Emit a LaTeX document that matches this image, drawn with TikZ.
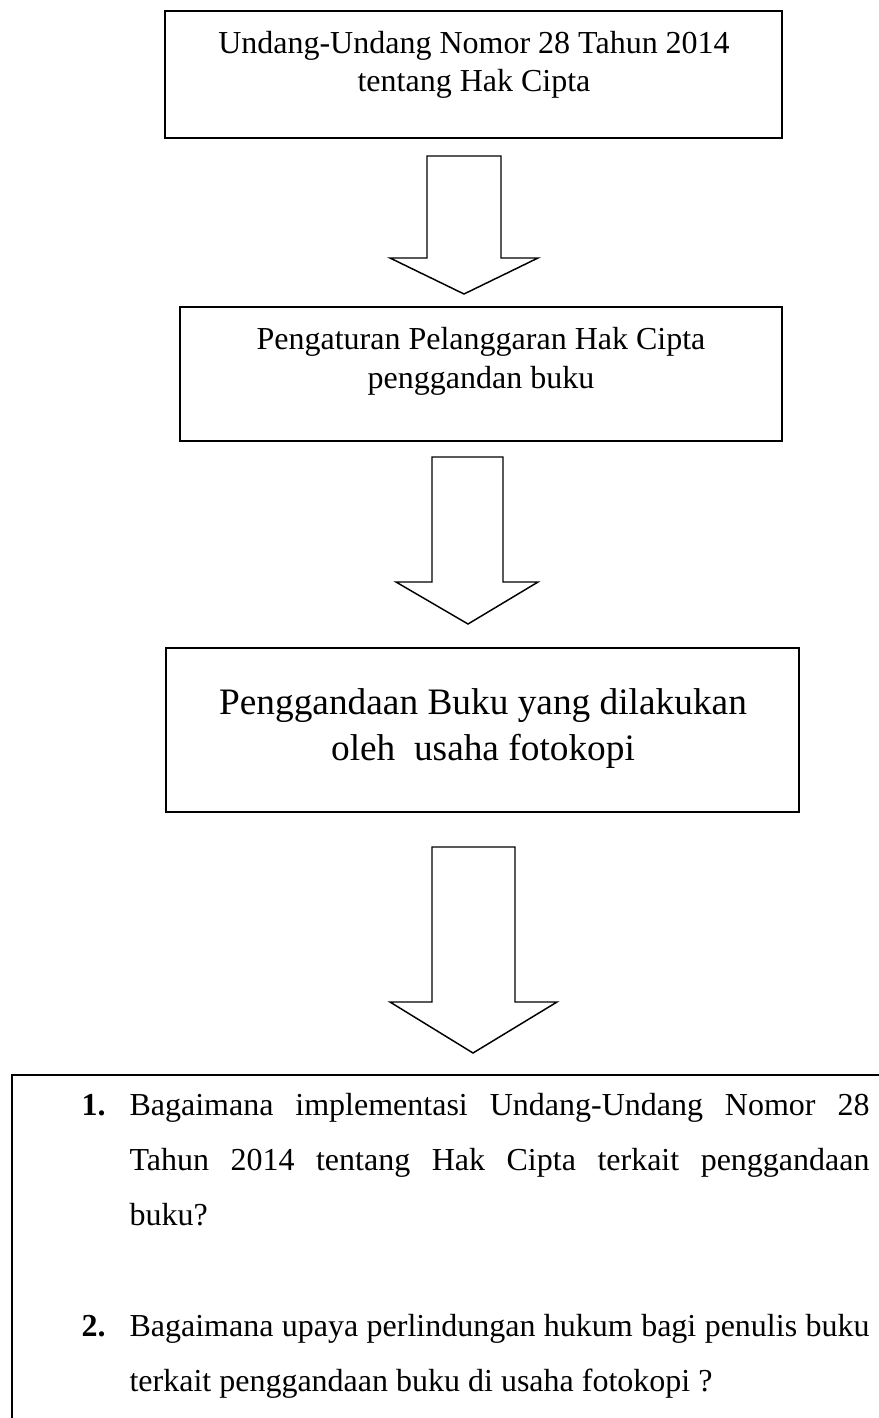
\documentclass[tikz,border=0pt]{standalone}
\usepackage{fontspec}
\setmainfont{Liberation Serif}
\usetikzlibrary{fit}
\begin{document}
\begin{tikzpicture}[x=0.375pt,y=-0.375pt,
  boxline/.style={draw=black, line width=0.75pt, inner sep=0pt},
  blockarrow/.style={draw=black, line width=0.55pt, line join=miter, fill=white},
  txt/.style={anchor=base, inner sep=0pt},
  qtxt/.style={anchor=base west, inner sep=0pt},
]
\useasboundingbox (0,0) rectangle (879,1418);
\fill[white] (0,0) rectangle (879,1418);
\clip (0,0) rectangle (879,1418);

% boxes
\node[boxline, fit={(165,11)(782,138)}] (b1) {};
\node[boxline, fit={(180,307)(782,441)}] (b2) {};
\node[boxline, fit={(166,648)(799,812)}] (b3) {};
\node[boxline, fit={(12,1075)(900,1440)}] (b4) {};

% box texts
\node[txt] (t1) at (474,54) {\parbox[t]{240pt}{\centering\fontsize{12}{14.2}\selectfont
  Undang-Undang Nomor 28 Tahun 2014\\tentang Hak Cipta}};
\node[txt] (t2) at (481,350) {\parbox[t]{240pt}{\centering\fontsize{12}{14.6}\selectfont
  Pengaturan Pelanggaran Hak Cipta\\penggandan buku}};
\node[txt] (t3) at (483,714) {\parbox[t]{240pt}{\centering\fontsize{14}{17.6}\selectfont
  Penggandaan Buku yang dilakukan\\oleh\ \ usaha fotokopi}};

% block arrows
\draw[blockarrow] (427,156) -- (501,156) -- (501,258) -- (538,258) -- (464,294)
  -- (390,258) -- (427,258) -- cycle;
\draw[blockarrow] (432,457) -- (503,457) -- (503,582) -- (538,582) -- (468,624)
  -- (396,582) -- (432,582) -- cycle;
\draw[blockarrow] (432,847) -- (515,847) -- (515,1002) -- (557,1002) -- (473,1053)
  -- (390,1002) -- (432,1002) -- cycle;

% questions
\node[qtxt, font=\bfseries\fontsize{12}{20.7}\selectfont] (n1) at (81,1115) {1.};
\node[qtxt] (q1) at (129,1115) {\parbox[t]{277.5pt}{\fontsize{12}{20.7}\selectfont
  \hyphenpenalty=10000 \exhyphenpenalty=10000
  Bagaimana implementasi Undang-Undang Nomor 28\linebreak
  Tahun 2014 tentang Hak Cipta terkait penggandaan\linebreak
  buku?}};
\node[qtxt, font=\bfseries\fontsize{12}{20.7}\selectfont] (n2) at (81,1336) {2.};
\node[qtxt] (q2) at (129,1336) {\parbox[t]{277.5pt}{\fontsize{12}{20.7}\selectfont
  \hyphenpenalty=10000 \exhyphenpenalty=10000
  Bagaimana upaya perlindungan hukum bagi penulis buku\linebreak
  terkait penggandaan buku di usaha fotokopi ?}};
\end{tikzpicture}
\end{document}
